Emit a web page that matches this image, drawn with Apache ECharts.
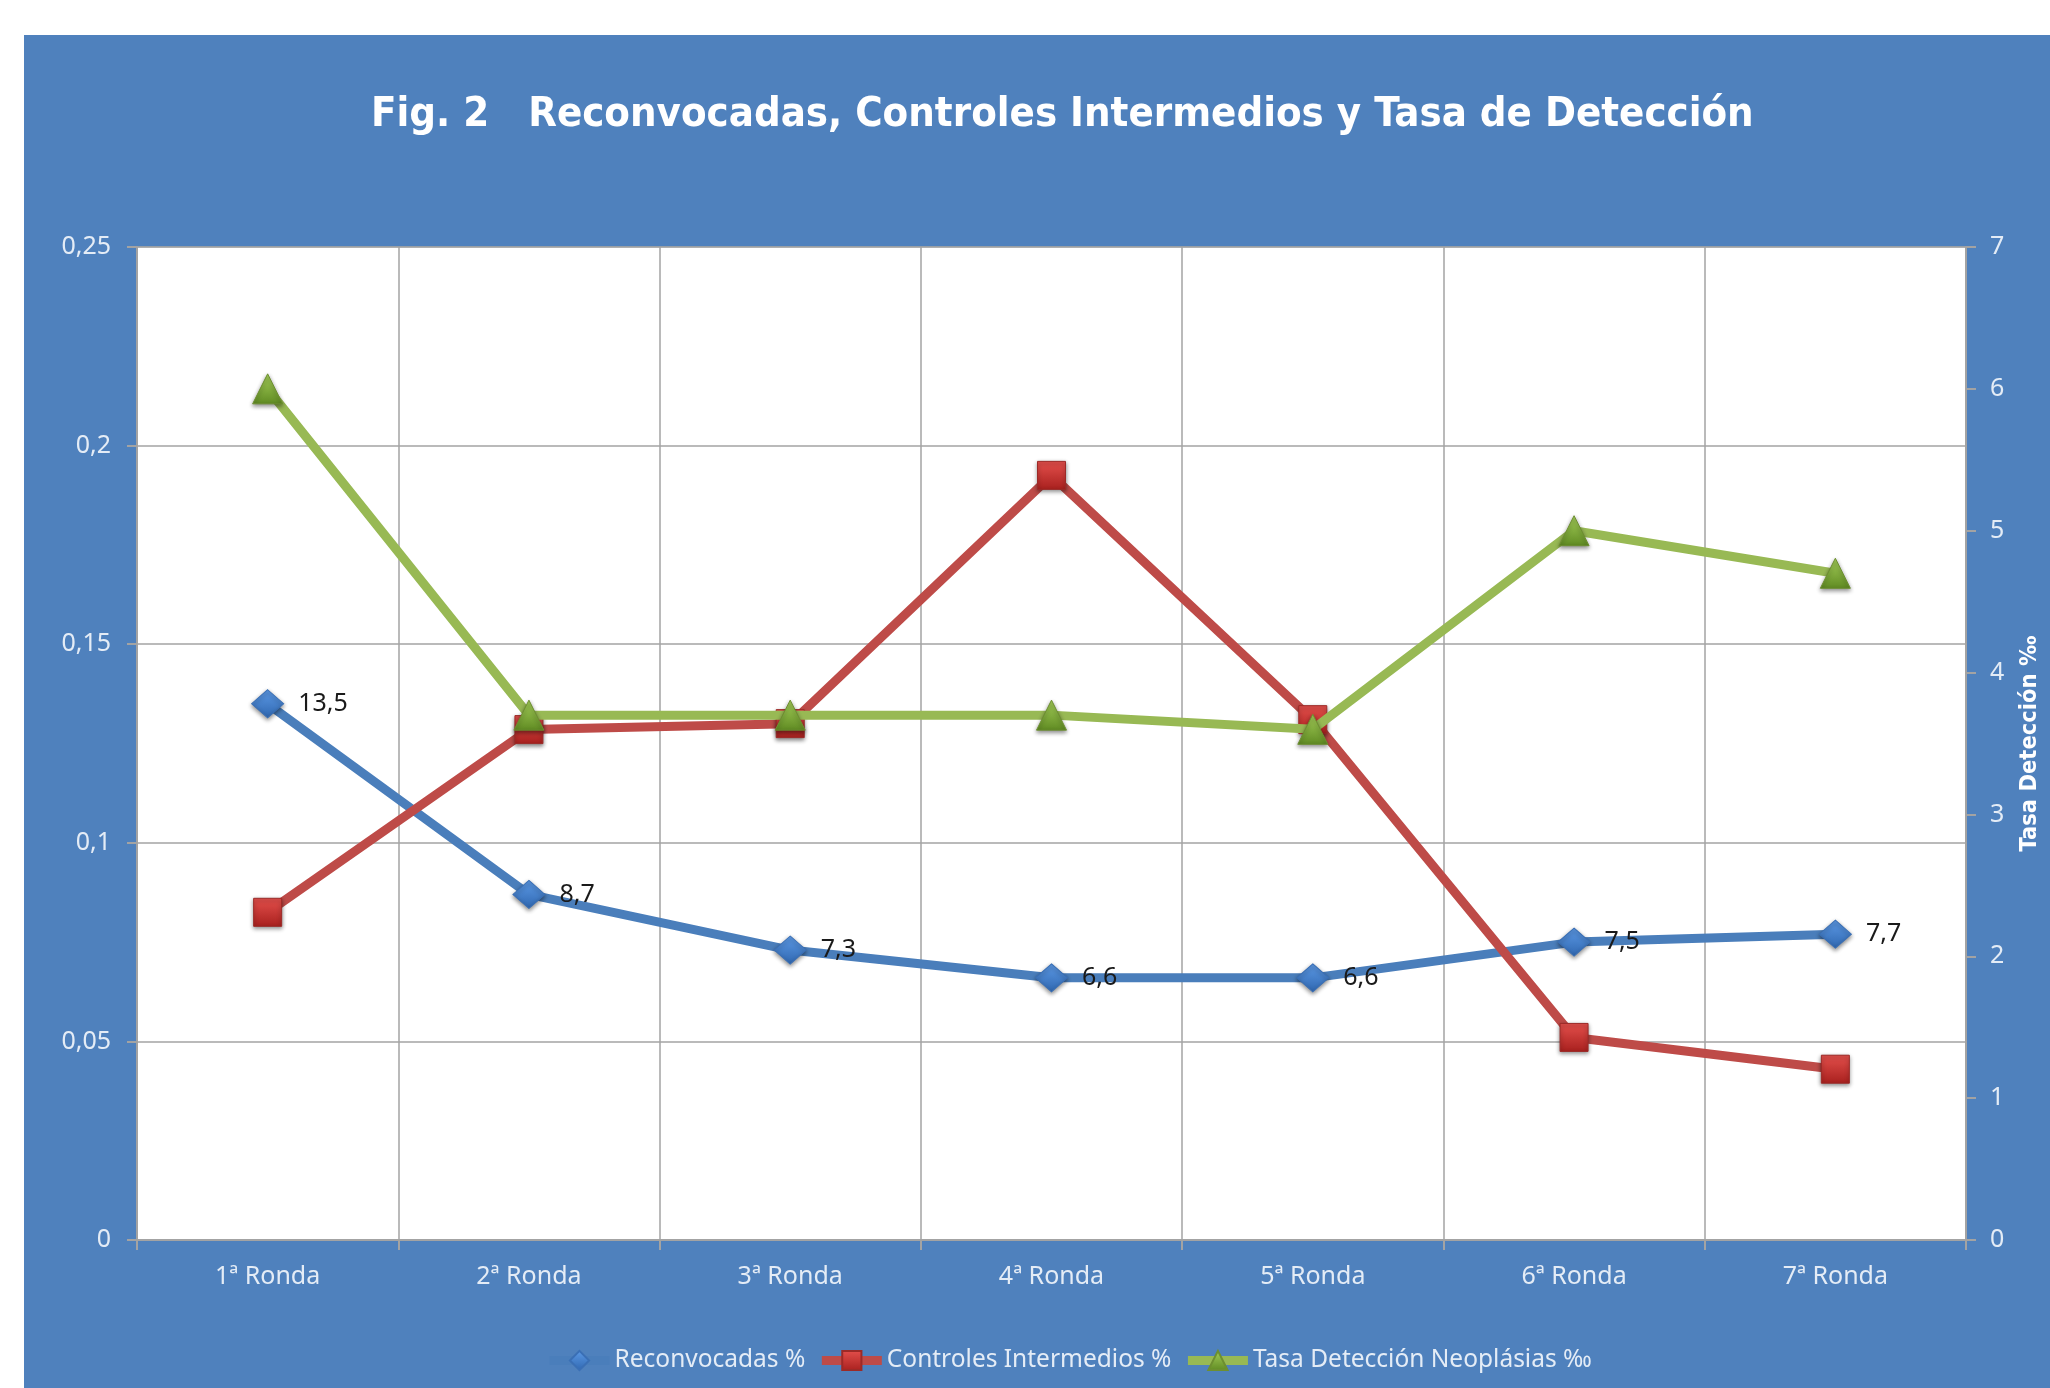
<!DOCTYPE html>
<html>
<head>
<meta charset="utf-8">
<script src="https://cdn.jsdelivr.net/npm/echarts@6/dist/echarts.min.js"></script>
<style>
  html, body { margin: 0; padding: 0; background: #ffffff; overflow: hidden; }
  #chart {
    position: absolute;
    left: 24px;
    top: 35px;
    width: 2026px;
    height: 1353px;
  }
</style>
</head>
<body>
<div id="chart"></div>
<script>
// datos
var rondas = ['1ª Ronda', '2ª Ronda', '3ª Ronda', '4ª Ronda', '5ª Ronda', '6ª Ronda', '7ª Ronda'];
var reconvocadas = [0.135, 0.087, 0.073, 0.066, 0.066, 0.075, 0.077];
var controles = [0.0825, 0.1285, 0.130, 0.1925, 0.131, 0.051, 0.043];
var tasaDeteccion = [6.0, 3.7, 3.7, 3.7, 3.6, 5.0, 4.7];

var nombres = ['Reconvocadas %', 'Controles Intermedios %', 'Tasa Detección Neoplásias ‰'];

var fuente = "'Noto Sans', 'DejaVu Sans', sans-serif";
var fuenteEstrecha = "'Liberation Sans Narrow', 'DejaVu Sans Condensed', sans-serif";
var colorTexto = '#e4ecf6';
var gris = '#a3a3a3';

function coma(v) {
  return String(+v.toFixed(2)).replace('.', ',');
}

function degradado(claro, oscuro) {
  return new echarts.graphic.LinearGradient(0, 0, 0, 1, [
    { offset: 0, color: claro },
    { offset: 1, color: oscuro }
  ]);
}

var myChart = echarts.init(document.getElementById('chart'));

var option = {
  backgroundColor: '#4f81bd',
  animation: false,
  title: {
    text: 'Fig. 2   Reconvocadas, Controles Intermedios y Tasa de Detección',
    left: 342,
    top: 54,
    textStyle: {
      fontFamily: fuenteEstrecha,
      fontWeight: 'bold',
      fontSize: 41.5,
      color: '#ffffff'
    }
  },
  legend: {
    data: nombres,
    top: 1308,
    left: 516,
    itemWidth: 60,
    itemHeight: 24,
    itemGap: 12,
    lineStyle: { width: 9 },
    textStyle: {
      fontFamily: fuente,
      fontSize: 24.5,
      color: colorTexto
    }
  },
  grid: {
    left: 113,
    right: 62,
    top: 212,
    bottom: 148,
    show: true,
    backgroundColor: '#ffffff',
    borderColor: gris,
    borderWidth: 1
  },
  xAxis: {
    type: 'category',
    data: rondas,
    boundaryGap: true,
    axisLine: { lineStyle: { color: gris, width: 2 } },
    axisTick: { show: true, length: 10, lineStyle: { color: gris, width: 2 } },
    splitLine: { show: true, lineStyle: { color: gris, width: 1.5 } },
    axisLabel: {
      margin: 24,
      fontFamily: fuente,
      fontSize: 25,
      color: colorTexto
    }
  },
  yAxis: [
    {
      type: 'value',
      min: 0,
      max: 0.25,
      interval: 0.05,
      axisLine: { show: true, lineStyle: { color: gris, width: 2 } },
      axisTick: { show: true, length: 10, lineStyle: { color: gris, width: 2 } },
      splitLine: { show: true, lineStyle: { color: gris, width: 1.5 } },
      axisLabel: {
        margin: 26,
        fontFamily: fuente,
        fontSize: 25,
        color: colorTexto,
        formatter: coma
      }
    },
    {
      type: 'value',
      min: 0,
      max: 7,
      interval: 1,
      position: 'right',
      name: 'Tasa Detección ‰',
      nameLocation: 'middle',
      nameRotate: 90,
      nameGap: 52,
      nameTextStyle: {
        fontFamily: fuenteEstrecha,
        fontWeight: 'bold',
        fontSize: 23.5,
        color: '#ffffff'
      },
      axisLine: { show: true, lineStyle: { color: gris, width: 2 } },
      axisTick: { show: true, length: 10, lineStyle: { color: gris, width: 2 } },
      splitLine: { show: false },
      axisLabel: {
        margin: 24,
        fontFamily: fuente,
        fontSize: 25,
        color: colorTexto
      }
    }
  ],
  series: [
    {
      name: nombres[0],
      type: 'line',
      yAxisIndex: 0,
      data: reconvocadas,
      symbol: 'diamond',
      symbolSize: [32, 28],
      lineStyle: { color: '#4a7ebb', width: 9 },
      itemStyle: {
        color: degradado('#5d9ae6', '#2f67b0'),
        borderColor: '#3a6fb5',
        borderWidth: 1,
        shadowColor: 'rgba(0,0,0,0.45)',
        shadowBlur: 4,
        shadowOffsetY: 2
      },
      label: {
        show: true,
        position: 'right',
        distance: 14,
        fontFamily: fuente,
        fontSize: 25,
        color: '#1a1a1a',
        formatter: function (p) {
          return (p.value * 100).toFixed(1).replace('.', ',');
        }
      },
      z: 3
    },
    {
      name: nombres[1],
      type: 'line',
      yAxisIndex: 0,
      data: controles,
      symbol: 'rect',
      symbolSize: 28,
      lineStyle: { color: '#be4b48', width: 9 },
      itemStyle: {
        color: degradado('#e4504c', '#a8201e'),
        borderColor: '#9c2a27',
        borderWidth: 1,
        shadowColor: 'rgba(0,0,0,0.45)',
        shadowBlur: 4,
        shadowOffsetY: 2
      },
      z: 4
    },
    {
      name: nombres[2],
      type: 'line',
      yAxisIndex: 1,
      data: tasaDeteccion,
      symbol: 'triangle',
      symbolSize: [30, 30],
      lineStyle: { color: '#98b954', width: 9 },
      itemStyle: {
        color: degradado('#a6d05a', '#5f8a22'),
        borderColor: '#6d8f30',
        borderWidth: 1,
        shadowColor: 'rgba(0,0,0,0.45)',
        shadowBlur: 4,
        shadowOffsetY: 2
      },
      z: 5
    }
  ]
};

myChart.setOption(option);
</script>
</body>
</html>
